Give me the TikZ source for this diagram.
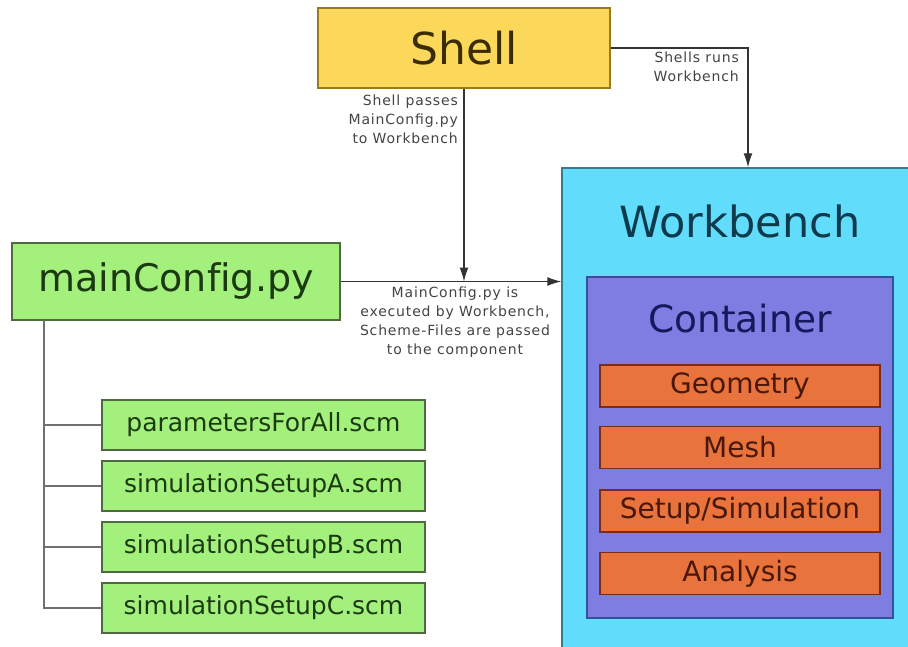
\documentclass[tikz,border=0pt]{standalone}
\usepackage{fontspec}
\setmainfont{DejaVu Sans}[Ligatures=NoCommon]
\newfontfamily\lblfont{DejaVu Sans}[LetterSpace=6]
\usetikzlibrary{arrows.meta,positioning}
\definecolor{shellfill}{HTML}{FCD85A}
\definecolor{shelldraw}{HTML}{9A7A1E}
\definecolor{shelltext}{HTML}{3A2C05}
\definecolor{greenfill}{HTML}{A3F07D}
\definecolor{greendraw}{HTML}{4E6A40}
\definecolor{greentext}{HTML}{1C3A12}
\definecolor{wbfill}{HTML}{62DCFB}
\definecolor{wbdraw}{HTML}{3A7A90}
\definecolor{wbtext}{HTML}{0D3A4C}
\definecolor{contfill}{HTML}{7E7EE2}
\definecolor{contdraw}{HTML}{34509A}
\definecolor{conttext}{HTML}{16195E}
\definecolor{orfill}{HTML}{E8733C}
\definecolor{ordraw}{HTML}{7A2C18}
\definecolor{ortext}{HTML}{4A180A}
\definecolor{labeltext}{HTML}{444444}
\definecolor{treeline}{HTML}{707070}
\definecolor{conn}{HTML}{333333}
\begin{document}
\begin{tikzpicture}[x=1pt,y=-1pt,
  box/.style={rectangle,inner sep=0pt,line width=1.5pt},
  shellbox/.style={box,fill=shellfill,draw=shelldraw,text=shelltext,font=\fontsize{44}{50}\selectfont},
  mainbox/.style={box,fill=greenfill,draw=greendraw,text=greentext,font=\fontsize{38}{44}\selectfont},
  scmbox/.style={box,fill=greenfill,draw=greendraw,text=greentext,font=\fontsize{25}{30}\selectfont,minimum width=323pt,minimum height=50pt},
  wbbox/.style={box,fill=wbfill,draw=wbdraw},
  contbox/.style={box,fill=contfill,draw=contdraw},
  orbox/.style={box,fill=orfill,draw=ordraw,text=ortext,font=\fontsize{28}{32}\selectfont,minimum width=280pt,minimum height=42pt},
  lbl/.style={inner sep=0pt,text=labeltext,font=\lblfont\fontsize{14}{19}\selectfont},
  conline/.style={draw=conn,line width=1.3pt},
  arr/.style={conline,-{Latex[length=14pt,width=9pt]}},
  tree/.style={draw=treeline,line width=2pt}
]
\useasboundingbox (0,0) rectangle (908,646);
\clip (0,0) rectangle (908,646);
\fill[white] (0,0) rectangle (908,646);

% Workbench
\node[wbbox,minimum width=372pt,minimum height=492pt] (wb) at (748,414) {};
\node[inner sep=0pt,text=wbtext,font=\fontsize{43}{48}\selectfont] (wbl) at (740,221) {Workbench};
\node[contbox,minimum width=306pt,minimum height=341pt] (cont) at (740,447.5) {};
\node[inner sep=0pt,text=conttext,font=\fontsize{37.5}{42}\selectfont] (contl) at (740,319) {Container};
\node[orbox] (geo) at (740,386) {Geometry};
\node[orbox] (mesh) at (740,447.5) {Mesh};
\node[orbox] (setup) at (740,511) {Setup/Simulation};
\node[orbox] (ana) at (740,573.5) {Analysis};

% Shell
\node[shellbox,minimum width=292pt,minimum height=80pt] (shell) at (464,48) {Shell};

% mainConfig
\node[mainbox,minimum width=328pt,minimum height=77pt] (main) at (176,281.5) {mainConfig.py};

% scm files
\node[scmbox] (pfa) at (263.5,425) {parametersForAll.scm};
\node[scmbox] (sa) at (263.5,486) {simulationSetupA.scm};
\node[scmbox] (sb) at (263.5,547) {simulationSetupB.scm};
\node[scmbox] (sc) at (263.5,608) {simulationSetupC.scm};

% tree
\coordinate (troot) at (44,320);
\draw[tree] (troot) -- (troot |- sc.west) -- (sc.west);
\draw[tree] (troot |- pfa.west) -- (pfa.west);
\draw[tree] (troot |- sa.west) -- (sa.west);
\draw[tree] (troot |- sb.west) -- (sb.west);

% connectors
\draw[arr] (main.east) -- (main.east -| wb.west);
\draw[arr] (shell.south) -- (shell.south |- main.east);
\draw[arr] (shell.east) -| (wb.north);

% labels
\node[lbl,anchor=north east,align=right] (l1) at (458,95) {Shell passes\\MainConfig.py\\to Workbench};
\node[lbl,anchor=north east,align=right] (l2) at (739,52) {Shells runs\\Workbench};
\node[lbl,anchor=north,align=center] (l3) at (455,287) {MainConfig.py is\\executed by Workbench,\\Scheme-Files are passed\\to the component};
\end{tikzpicture}
\end{document}
